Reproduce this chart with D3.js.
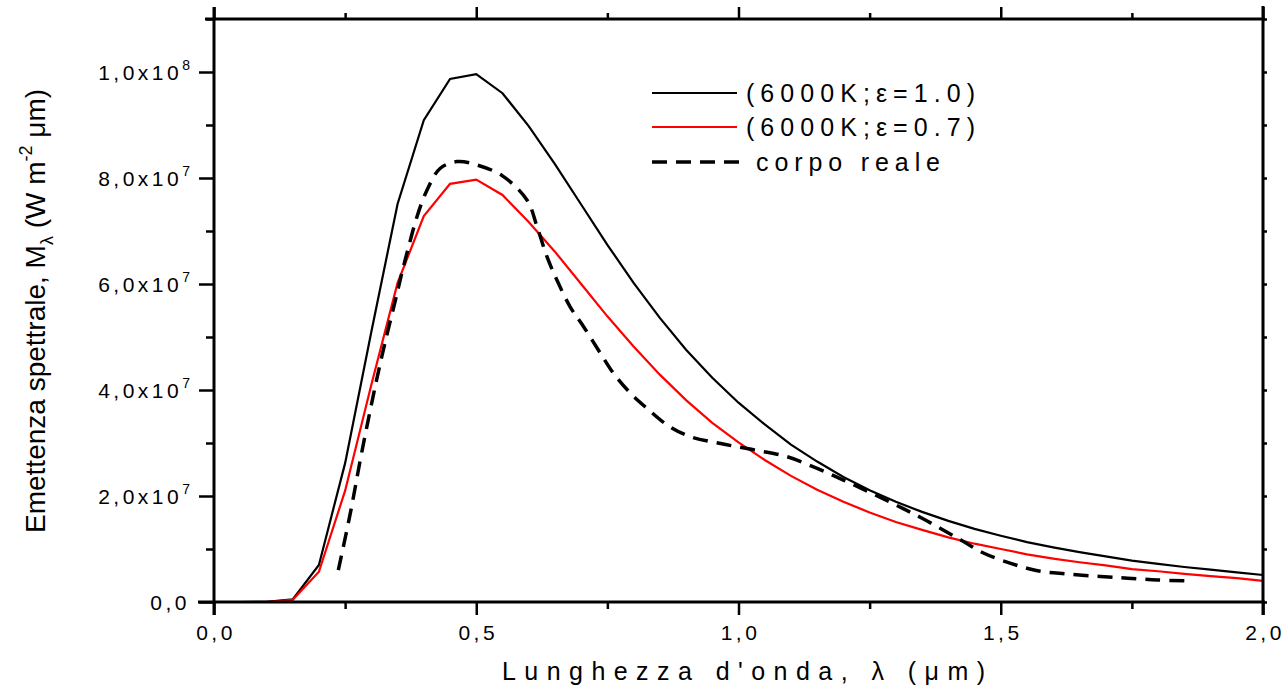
<!DOCTYPE html>
<html>
<head>
<meta charset="utf-8">
<script src="https://cdn.jsdelivr.net/npm/d3@7"></script>
<style>
  body { margin: 0; background: #fff; }
  svg { font-family: "Liberation Sans", Arial, sans-serif; }
</style>
</head>
<body>
<svg id="chart"></svg>
<script>
// wavelength (um) and spectral emittance, in units of 10^7 W m^-2 um^-1
var wavelength = [0.05, 0.10, 0.15, 0.20, 0.25, 0.30, 0.35, 0.40, 0.45, 0.50,
    0.55, 0.60, 0.65, 0.70, 0.75, 0.80, 0.85, 0.90, 0.95, 1.00,
    1.05, 1.10, 1.15, 1.20, 1.25, 1.30, 1.35, 1.40, 1.45, 1.50,
    1.55, 1.60, 1.65, 1.70, 1.75, 1.80, 1.85, 1.90, 1.95, 2.00];
var blackBody = [0, 0.002, 0.05, 0.70, 2.62, 5.10, 7.51, 9.09, 9.87, 9.96,
    9.60, 8.98, 8.26, 7.50, 6.74, 6.02, 5.36, 4.76, 4.23, 3.76,
    3.35, 2.97, 2.65, 2.36, 2.11, 1.89, 1.70, 1.53, 1.38, 1.25,
    1.13, 1.03, 0.94, 0.86, 0.78, 0.72, 0.66, 0.61, 0.56, 0.51];
var greyBody = [0, 0, 0.04, 0.57, 2.10, 4.10, 6.02, 7.28, 7.89, 7.97,
    7.68, 7.17, 6.61, 6.00, 5.39, 4.82, 4.29, 3.81, 3.38, 3.01,
    2.68, 2.38, 2.12, 1.89, 1.69, 1.51, 1.36, 1.22, 1.10, 1.00,
    0.90, 0.82, 0.75, 0.69, 0.62, 0.58, 0.53, 0.49, 0.45, 0.40];
var realX = [0.237, 0.26, 0.282, 0.31, 0.326, 0.345, 0.358, 0.371, 0.387, 0.406,
    0.431, 0.463, 0.50, 0.55, 0.597, 0.616, 0.635, 0.654, 0.679, 0.705,
    0.737, 0.762, 0.794, 0.826, 0.864, 0.908, 0.966, 1.03, 1.093, 1.15,
    1.20, 1.25, 1.30, 1.35, 1.424, 1.468, 1.519, 1.57, 1.627, 1.69,
    1.742, 1.799, 1.85];
var realY = [0.60, 1.68, 2.84, 4.19, 4.89, 5.66, 6.20, 6.70, 7.27, 7.77,
    8.18, 8.31, 8.25, 8.04, 7.58, 7.08, 6.51, 6.07, 5.57, 5.19,
    4.69, 4.31, 3.94, 3.65, 3.34, 3.12, 2.99, 2.87, 2.74, 2.52,
    2.30, 2.07, 1.83, 1.58, 1.17, 0.92, 0.73, 0.59, 0.53, 0.48,
    0.45, 0.415, 0.40];

var xTicks = [0, 0.5, 1.0, 1.5, 2.0];
var xMinor = [0.25, 0.75, 1.25, 1.75];
var yTicks = [0, 2, 4, 6, 8, 10];
var yMinor = [1, 3, 5, 7, 9, 11];
var seriesNames = ["(6000K;\u03b5=1.0)", "(6000K;\u03b5=0.7)", "corpo reale"];

var W = 1285, H = 689;
var plotLeft = 214, plotRight = 1263, plotTop = 19, plotBottom = 602;

var svg = d3.select("#chart").attr("width", W).attr("height", H);

var x = d3.scaleLinear().domain([0, 2]).range([plotLeft, plotRight]);
var y = d3.scaleLinear().domain([0, 11]).range([plotBottom, plotTop]);

// curves
var line = d3.line().x(d => x(d[0])).y(d => y(d[1]));
var smooth = d3.line().x(d => x(d[0])).y(d => y(d[1])).curve(d3.curveCatmullRom);

svg.append("path")
    .attr("d", line(wavelength.map((w, i) => [w, blackBody[i]])))
    .attr("fill", "none").attr("stroke", "#000").attr("stroke-width", 2.2);
svg.append("path")
    .attr("d", line(wavelength.map((w, i) => [w, greyBody[i]])))
    .attr("fill", "none").attr("stroke", "#f00").attr("stroke-width", 2.2);
svg.append("path")
    .attr("d", smooth(realX.map((w, i) => [w, realY[i]])))
    .attr("fill", "none").attr("stroke", "#000").attr("stroke-width", 3.5)
    .attr("stroke-dasharray", "15,9");

// axes
function styleAxis(g) {
    g.select(".domain").remove();
    g.selectAll("line").attr("stroke", "#000").attr("stroke-width", 2.5);
    g.selectAll("text").remove();
}

svg.append("g").attr("transform", `translate(0,${plotBottom})`)
    .call(d3.axisBottom(x).tickValues(xTicks).tickSize(13).tickFormat("")).call(styleAxis);
svg.append("g").attr("transform", `translate(0,${plotBottom})`)
    .call(d3.axisBottom(x).tickValues(xMinor).tickSize(7).tickFormat("")).call(styleAxis);
svg.append("g").attr("transform", `translate(0,${plotTop})`)
    .call(d3.axisTop(x).tickValues(xTicks).tickSize(12).tickFormat("")).call(styleAxis);
svg.append("g").attr("transform", `translate(0,${plotTop})`)
    .call(d3.axisTop(x).tickValues(xMinor).tickSize(6).tickFormat("")).call(styleAxis);
svg.append("g").attr("transform", `translate(${plotLeft},0)`)
    .call(d3.axisLeft(y).tickValues(yTicks).tickSize(15).tickFormat("")).call(styleAxis);
svg.append("g").attr("transform", `translate(${plotLeft},0)`)
    .call(d3.axisLeft(y).tickValues(yMinor).tickSize(8).tickFormat("")).call(styleAxis);
svg.append("g").attr("transform", `translate(${plotRight},0)`)
    .call(d3.axisRight(y).tickValues(yTicks.concat(yMinor)).tickSize(4).tickFormat("")).call(styleAxis);

// frame lines
var frame = svg.append("g").attr("stroke", "#000").attr("stroke-width", 3);
frame.append("line").attr("x1", plotLeft - 16).attr("x2", plotRight + 2).attr("y1", plotBottom).attr("y2", plotBottom);
frame.append("line").attr("x1", plotLeft - 9).attr("x2", plotRight + 2).attr("y1", plotTop).attr("y2", plotTop);
frame.append("line").attr("x1", plotLeft).attr("x2", plotLeft).attr("y1", plotTop - 12).attr("y2", plotBottom + 13);
frame.append("line").attr("x1", plotRight).attr("x2", plotRight).attr("y1", plotTop - 13).attr("y2", plotBottom + 13);

// tick labels
svg.append("g").selectAll("text").data(xTicks).join("text")
    .attr("x", d => x(d) + 2).attr("y", 640)
    .attr("text-anchor", "middle").attr("font-size", 21).style("letter-spacing", "3.5px")
    .text(d => d3.format(".1f")(d).replace(".", ","));

var yl = svg.append("g").selectAll("text").data(yTicks).join("text")
    .attr("x", 190).attr("y", d => y(d) + 8)
    .attr("text-anchor", "end").attr("font-size", 21).style("letter-spacing", "3.5px");
yl.each(function (d) {
    var t = d3.select(this);
    if (d === 0) { t.text("0,0"); return; }
    var e = Math.floor(Math.log10(d * 1e7) + 1e-9);
    var m = d * 1e7 / Math.pow(10, e);
    t.append("tspan").text(d3.format(".1f")(m).replace(".", ",") + "x10");
    t.append("tspan").attr("font-size", 14).attr("dy", -10).style("letter-spacing", "0px").text(e);
});

// axis titles
svg.append("text").attr("x", 502).attr("y", 680)
    .attr("font-size", 25).attr("textLength", 483).attr("lengthAdjust", "spacing")
    .text("Lunghezza d'onda, \u03bb (\u03bcm)");

var yt = svg.append("text").attr("transform", "translate(45,533) rotate(-90)")
    .attr("font-size", 28);
yt.append("tspan").text("Emettenza spettrale, M");
yt.append("tspan").attr("font-size", 18).attr("dy", 8).text("\u03bb");
yt.append("tspan").attr("dy", -8).text(" (W m");
yt.append("tspan").attr("font-size", 18).attr("dy", -13).text("-2");
yt.append("tspan").attr("dy", 13).text(" \u03bcm)");

// legend
var legend = svg.append("g");
var legendRows = [
    { name: seriesNames[0], color: "#000", width: 2.2, dash: null, y: 93, x2: 737, tx: 746, tl: 229 },
    { name: seriesNames[1], color: "#f00", width: 2.2, dash: null, y: 127, x2: 737, tx: 746, tl: 229 },
    { name: seriesNames[2], color: "#000", width: 3.5, dash: "15,9", y: 162, x2: 747, tx: 756, tl: 184 }
];
legendRows.forEach(function (r) {
    legend.append("line").attr("x1", 652).attr("x2", r.x2).attr("y1", r.y).attr("y2", r.y)
        .attr("stroke", r.color).attr("stroke-width", r.width)
        .attr("stroke-dasharray", r.dash);
    legend.append("text").attr("x", r.tx).attr("y", r.y + 9)
        .attr("font-size", 25).attr("textLength", r.tl).attr("lengthAdjust", "spacing")
        .text(r.name);
});
</script>
</body>
</html>
